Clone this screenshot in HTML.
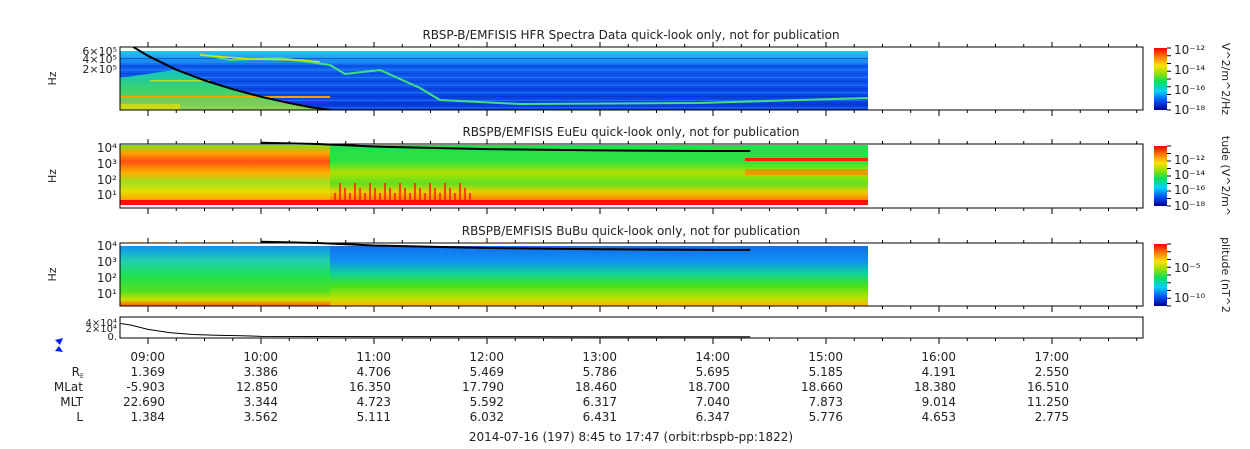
<!DOCTYPE html>
<html><head><meta charset="utf-8">
<style>
body{margin:0;background:#fff;}
svg{display:block;font-family:"DejaVu Sans","Liberation Sans",sans-serif;}
text{fill:#222;}
</style></head><body>
<svg id="c" width="1250" height="449" viewBox="0 0 1250 449" xmlns="http://www.w3.org/2000/svg">
<defs>
<linearGradient id="cb" x1="0" y1="1" x2="0" y2="0">
<stop offset="0" stop-color="#00008f"/><stop offset="0.15" stop-color="#0050ff"/><stop offset="0.3" stop-color="#00d0ff"/><stop offset="0.45" stop-color="#00e060"/><stop offset="0.6" stop-color="#a0e000"/><stop offset="0.72" stop-color="#ffe000"/><stop offset="0.85" stop-color="#ff8000"/><stop offset="1" stop-color="#ff0000"/></linearGradient>
<linearGradient id="p1bg" x1="0" y1="0" x2="0" y2="1">
<stop offset="0" stop-color="#20c8f0"/><stop offset="0.12" stop-color="#20a0f0"/><stop offset="0.25" stop-color="#1060f0"/><stop offset="1" stop-color="#0838e0"/></linearGradient>
<linearGradient id="p1low" x1="0" y1="0" x2="0" y2="1">
<stop offset="0" stop-color="#10d0c0"/><stop offset="0.5" stop-color="#40e060"/><stop offset="1" stop-color="#a0e040"/></linearGradient>
<linearGradient id="p2a" x1="0" y1="0" x2="0" y2="1">
<stop offset="0" stop-color="#80e020"/><stop offset="0.15" stop-color="#ffa000"/><stop offset="0.3" stop-color="#ff5010"/><stop offset="0.5" stop-color="#ffb000"/><stop offset="0.68" stop-color="#a0e020"/><stop offset="0.85" stop-color="#e8e000"/><stop offset="1" stop-color="#ffa000"/></linearGradient>
<linearGradient id="p2b" x1="0" y1="0" x2="0" y2="1">
<stop offset="0" stop-color="#20e050"/><stop offset="0.3" stop-color="#30e040"/><stop offset="0.5" stop-color="#b0e000"/><stop offset="0.7" stop-color="#60e020"/><stop offset="0.85" stop-color="#e8d000"/><stop offset="1" stop-color="#ff8000"/></linearGradient>
<linearGradient id="p3" x1="0" y1="0" x2="0" y2="1">
<stop offset="0" stop-color="#1070f0"/><stop offset="0.25" stop-color="#1090f0"/><stop offset="0.45" stop-color="#10d0a0"/><stop offset="0.65" stop-color="#40e020"/><stop offset="0.88" stop-color="#c0e000"/><stop offset="1" stop-color="#ffb000"/></linearGradient>
<linearGradient id="p3a" x1="0" y1="0" x2="0" y2="1">
<stop offset="0" stop-color="#1090f0"/><stop offset="0.25" stop-color="#20d0b0"/><stop offset="0.5" stop-color="#20e050"/><stop offset="0.75" stop-color="#50e020"/><stop offset="0.9" stop-color="#d0e000"/><stop offset="1" stop-color="#ff5000"/></linearGradient>
<clipPath id="cp1"><rect x="120" y="47" width="1023" height="63"/></clipPath>
</defs>
<g id="g"></g>
</svg>
<script>
const tickLabels=["09:00","10:00","11:00","12:00","13:00","14:00","15:00","16:00","17:00"];
const tickHours=[9,10,11,12,13,14,15,16,17];
const ephRE=["1.369","3.386","4.706","5.469","5.786","5.695","5.185","4.191","2.550"];
const ephMLat=["-5.903","12.850","16.350","17.790","18.460","18.700","18.660","18.380","16.510"];
const ephMLT=["22.690","3.344","4.723","5.592","6.317","7.040","7.873","9.014","11.250"];
const ephL=["1.384","3.562","5.111","6.032","6.431","6.347","5.776","4.653","2.775"];
// black density line (hours, fraction of panel1 height from top)
const lineHours=[8.87,9.0,9.25,9.5,9.75,10.0,10.25,10.45,10.62];
const lineFrac=[0.0,0.14,0.36,0.53,0.67,0.79,0.89,0.96,1.0];
// panel2/3 upper line (hours, fraction from top)
const upHours=[10.0,10.5,11.0,11.5,12.0,13.0,14.0,14.33];
const upFrac=[-0.02,0.0,0.04,0.06,0.08,0.1,0.11,0.11];
// panel 4 trace (hours, value 0..4e4)
const p4Hours=[8.75,8.85,9.0,9.2,9.4,9.6,9.83,10.0,11.0,12.0,13.0,14.0,14.33];
const p4Vals=[32000,28000,18000,10000,6000,4000,3000,1500,1000,800,700,700,700];

const NS="http://www.w3.org/2000/svg";
const G=document.getElementById('g');
const X0=119.75,PX=113;
function xs(h){return X0+(h-8.75)*PX;}
function el(t,a,p){const e=document.createElementNS(NS,t);for(const k in a)e.setAttribute(k,a[k]);(p||G).appendChild(e);return e;}
function txt(x,y,s,a,p){const e=el('text',Object.assign({x:x,y:y,'font-size':12},a||{}),p);e.textContent=s;return e;}
const DX=868;
const panels=[{y:47,h:63},{y:144,h:64},{y:243,h:63}];
const titles=["RBSP-B/EMFISIS  HFR Spectra Data quick-look only, not for publication","RBSPB/EMFISIS  EuEu quick-look only, not for publication","RBSPB/EMFISIS  BuBu quick-look only, not for publication"];
panels.forEach((p,i)=>{
 const t=txt(631,39+[0,97,196][i],titles[i],{'text-anchor':'middle','xml:space':'preserve'});
 
 
});
// Panel 1
const c1=el('g',{'clip-path':'url(#cp1)'});
let r=el('rect',{x:120,y:51,width:DX-120,height:59,fill:'url(#p1bg)'},c1);

for(let k=0;k<14;k++){el('rect',{x:120,y:58+k*3.8,width:DX-120,height:1,fill:k%2?'#30a0f0':'#0030c0',opacity:0.6},c1);}
let pts=[];lineHours.forEach((h,i)=>pts.push(xs(h)+','+(47+lineFrac[i]*63)));
el('polygon',{points:'120,78 '+pts.slice(2).join(' ')+' 120,110',fill:'url(#p1low)',opacity:0.9},c1);
el('rect',{x:120,y:96,width:210,height:2,fill:'#ffa000'},c1);
el('rect',{x:150,y:80,width:60,height:1.5,fill:'#e0e000',opacity:0.8},c1);
el('rect',{x:120,y:104,width:60,height:6,fill:'#e8e000',opacity:0.7},c1);
el('polyline',{points:'200,54 230,60 280,58 330,65 345,74 380,70 420,88 440,100 520,104 700,103 868,98',fill:'none',stroke:'#40e080','stroke-width':2},c1);
el('polyline',{points:'200,55 250,59 300,60 320,62',fill:'none',stroke:'#e0e000','stroke-width':1.5},c1);
let dl=el('polyline',{points:pts.join(' '),fill:'none',stroke:'#000','stroke-width':2},c1);

// Panel 2
r=el('rect',{x:120,y:145,width:210,height:55,fill:'url(#p2a)'});

el('rect',{x:330,y:145,width:DX-330,height:55,fill:'url(#p2b)'});
for(let x=334;x<470;x+=5){el('rect',{x:x,y:180+((x*7)%15),width:2,height:20-((x*7)%15),fill:'#ff2000',opacity:0.8});}
el('rect',{x:120,y:200,width:DX-120,height:5,fill:'#ff1000'});
el('rect',{x:745,y:158,width:123,height:3,fill:'#ff2000'});
el('rect',{x:745,y:169,width:123,height:6,fill:'#ff8000',opacity:0.7});
// Panel 3
r=el('rect',{x:120,y:246,width:210,height:60,fill:'url(#p3a)'});

el('rect',{x:330,y:246,width:DX-330,height:60,fill:'url(#p3)'});
[1,2].forEach(j=>{const p=panels[j];const up=[];upHours.forEach((h,i)=>up.push(xs(h)+','+(p.y+upFrac[i]*p.h)));
 const l=el('polyline',{points:up.join(' '),fill:'none',stroke:'#000','stroke-width':2});
 });
// Panel frames & ticks
const allP=panels.concat([{y:317,h:21}]);
allP.forEach((p,i)=>{
 const f=el('rect',{x:120,y:p.y,width:1023,height:p.h,fill:'none',stroke:'#000','stroke-width':1});
 
 for(let m=8.75+0.25;m<17.8;m+=0.25){const x=xs(m);const big=Math.abs(m-Math.round(m))<0.01;
  el('line',{x1:x,x2:x,y1:p.y+p.h,y2:p.y+p.h+(big?6:3),stroke:'#000'});
  if(i<3)el('line',{x1:x,x2:x,y1:p.y,y2:p.y-(big?5:3),stroke:'#000'});}
 if(i<3){const hz=txt(56,p.y+p.h/2,'Hz',{'font-size':11,transform:'rotate(-90 56 '+(p.y+p.h/2)+')','text-anchor':'middle'});
  }
});
[['6×10⁵',52],['4×10⁵',60],['2×10⁵',70]].forEach(a=>txt(117,a[1]+3,a[0],{'font-size':11,'text-anchor':'end'}));
[['10⁴',152],['10³',168],['10²',184],['10¹',199]].forEach(a=>txt(117,a[1],a[0],{'font-size':12,'text-anchor':'end'}));
[['10⁴',250],['10³',266],['10²',282],['10¹',298]].forEach(a=>txt(117,a[1],a[0],{'font-size':12,'text-anchor':'end'}));
[['4×10⁴',326],['2×10⁴',332],['0.',340]].forEach(a=>txt(117,a[1],a[0],{'font-size':10,'text-anchor':'end'}));
const tp=[];p4Hours.forEach((h,i)=>tp.push(xs(h)+','+(337-p4Vals[i]/40000*17)));
let t4=el('polyline',{points:tp.join(' '),fill:'none',stroke:'#000','stroke-width':1});

el('polygon',{points:'55,340 63,338 60,345',fill:'#0020ff'});
el('polygon',{points:'59,346 63,352 55,351',fill:'#0020ff'});
[[48,62,['10⁻¹²','10⁻¹⁴','10⁻¹⁶','10⁻¹⁸'],[50,70,90,110],'V^2/m^2/Hz'],[146,60,['10⁻¹²','10⁻¹⁴','10⁻¹⁶','10⁻¹⁸'],[160,175,190,206],'tude (V^2/m^'],[244,62,['10⁻⁵','10⁻¹⁰'],[268,298],'plitude (nT^2']].forEach((c,i)=>{
 const b=el('rect',{x:1154,y:c[0],width:13,height:c[1],fill:'url(#cb)'});
 
 for(let k=0;k<=8;k++)el('line',{x1:1167,x2:1171,y1:c[0]+k*c[1]/8,y2:c[0]+k*c[1]/8,stroke:'#000'});
 c[2].forEach((s,j)=>txt(1174,c[3][j]+4,s,{'font-size':12}));
 const tx=1222,ty=c[0]+c[1]/2;
 const lt=txt(tx,ty,c[4],{'font-size':11,transform:'rotate(90 '+tx+' '+ty+')','text-anchor':'middle'});
 
});
tickHours.forEach((h,i)=>{const x=xs(h)+17;
 const t=txt(x,361,tickLabels[i],{'text-anchor':'end'});
 [ephRE,ephMLat,ephMLT,ephL].forEach((arr,j)=>txt(x,376+j*15,arr[i],{'text-anchor':'end'}));
});
txt(80,376,'R',{'text-anchor':'end'});txt(80,378,'E',{'font-size':6});
txt(83,391,'MLat',{'text-anchor':'end'});txt(83,406,'MLT',{'text-anchor':'end'});txt(83,421,'L',{'text-anchor':'end'});
const ft=txt(631,441,'2014-07-16 (197) 8:45 to 17:47 (orbit:rbspb-pp:1822)',{'text-anchor':'middle'});

</script>
</body></html>
